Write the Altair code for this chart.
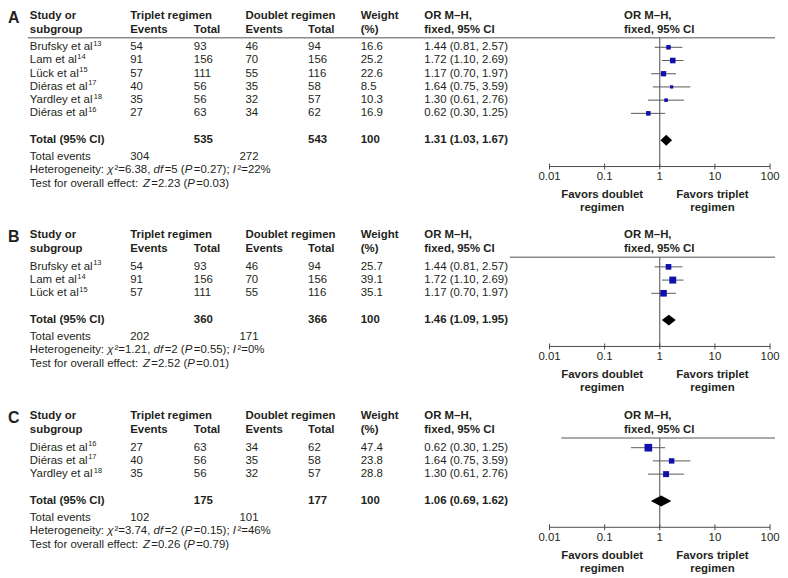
import altair as alt
import pandas as pd

# ------------------------------------------------------------------ data
# Panel A
A_study = ["Brufsky et al", "Lam et al", "Lück et al", "Diéras et al", "Yardley et al", "Diéras et al"]
A_ref = ["13", "14", "15", "17", "18", "16"]
A_trip_events = [54, 91, 57, 40, 35, 27]
A_trip_total = [93, 156, 111, 56, 56, 63]
A_doub_events = [46, 70, 55, 35, 32, 34]
A_doub_total = [94, 156, 116, 58, 57, 62]
A_weight = [16.6, 25.2, 22.6, 8.5, 10.3, 16.9]
A_or = [1.44, 1.72, 1.17, 1.64, 1.30, 0.62]
A_lo = [0.81, 1.10, 0.70, 0.75, 0.61, 0.30]
A_hi = [2.57, 2.69, 1.97, 3.59, 2.76, 1.25]
A_pooled = [1.31, 1.03, 1.67]
A_totals = [535, 543, 100]
A_events = [304, 272]
A_het = ["6.38", "5", "0.27", "22"]
A_test = ["2.23", "0.03"]

# Panel B
B_study = ["Brufsky et al", "Lam et al", "Lück et al"]
B_ref = ["13", "14", "15"]
B_trip_events = [54, 91, 57]
B_trip_total = [93, 156, 111]
B_doub_events = [46, 70, 55]
B_doub_total = [94, 156, 116]
B_weight = [25.7, 39.1, 35.1]
B_or = [1.44, 1.72, 1.17]
B_lo = [0.81, 1.10, 0.70]
B_hi = [2.57, 2.69, 1.97]
B_pooled = [1.46, 1.09, 1.95]
B_totals = [360, 366, 100]
B_events = [202, 171]
B_het = ["1.21", "2", "0.55", "0"]
B_test = ["2.52", "0.01"]

# Panel C
C_study = ["Diéras et al", "Diéras et al", "Yardley et al"]
C_ref = ["16", "17", "18"]
C_trip_events = [27, 40, 35]
C_trip_total = [63, 56, 56]
C_doub_events = [34, 35, 32]
C_doub_total = [62, 58, 57]
C_weight = [47.4, 23.8, 28.8]
C_or = [0.62, 1.64, 1.30]
C_lo = [0.30, 0.75, 0.61]
C_hi = [1.25, 3.59, 2.76]
C_pooled = [1.06, 0.69, 1.62]
C_totals = [175, 177, 100]
C_events = [102, 101]
C_het = ["3.74", "2", "0.15", "46"]
C_test = ["0.26", "0.79"]

header_top = ["Study or", "Triplet regimen", "Doublet regimen", "Weight", "OR M–H,", "OR M–H,"]
header_bot = ["subgroup", "Events", "Total", "Events", "Total", "(%)", "fixed, 95% CI", "fixed, 95% CI"]
total_label = "Total (95% CI)"
events_label = "Total events"
favors = [["Favors doublet", "regimen"], ["Favors triplet", "regimen"]]
tick_values = [0.01, 0.1, 1, 10, 100]
tick_labels = ["0.01", "0.1", "1", "10", "100"]

# ------------------------------------------------------------------ style / layout
FONT = "Liberation Sans"
TXT = "#231f20"
AXC = "#4d4d4d"
CIC = "#5a5a5a"
BLUE = "#1010aa"
HLINE = "#8c8c8c"
FS = 11.5
W = 776
X = dict(study=22, te=123, tt=187, de=239, dt=302, w=355, ortxt=419, fhdr=620, de_ev=233)
HDR_X_TOP = [X["study"], X["te"], X["de"], X["w"], X["ortxt"], X["fhdr"]]
HDR_X_BOT = [X["study"], X["te"], X["tt"], X["de"], X["dt"], X["w"], X["ortxt"], X["fhdr"]]
FOREST_RANGE = [545, 767]
FAV_X = [598, 709]

AW = {' ': 278, '(': 333, ')': 333, ',': 278, '.': 278, ':': 278, ';': 278, '=': 584, '%': 889,
      '²': 333, 'χ': 500, 'A': 667, 'B': 667, 'C': 722, 'D': 722, 'H': 722, 'I': 278, 'L': 556,
      'P': 667, 'T': 611, 'Y': 667, 'Z': 611, 'a': 556, 'c': 500, 'd': 556, 'e': 556, 'f': 278,
      'g': 556, 'h': 556, 'i': 222, 'k': 500, 'l': 222, 'm': 833, 'n': 556, 'o': 556, 'r': 333,
      's': 500, 't': 278, 'u': 556, 'v': 500, 'y': 500, 'ü': 556, 'é': 556}


def tw(s, size=FS):
    return sum(AW.get(c, 556) for c in s) * size / 1000.0


def panel(letter, study, ref, te, tt, de, dt, w, orv, lo, hi, pooled, totals, events, het, test,
          height, line_x0):
    n = len(study)
    h1, h2, hline = 6, 20, 28
    rows = [37.7 + 13.3 * i for i in range(n)]
    tot = rows[-1] + 27
    ev_y, het_y, test_y = tot + 17, tot + 30.5, tot + 44
    ax_y = tot + 26.5

    reg, bold, ital, sup, cen = [], [], [], [], []

    def add(lst, x, y, s):
        lst.append(dict(px=x, py=y, txt=str(s)))

    for x, s in zip(HDR_X_TOP, header_top):
        add(bold, x, h1, s)
    for x, s in zip(HDR_X_BOT, header_bot):
        add(bold, x, h2, s)
    for i in range(n):
        y = rows[i]
        add(reg, X["study"], y, study[i])
        add(sup, X["study"] + tw(study[i]) + 0.5, y - 3.5, ref[i])
        add(reg, X["te"], y, te[i])
        add(reg, X["tt"], y, tt[i])
        add(reg, X["de"], y, de[i])
        add(reg, X["dt"], y, dt[i])
        add(reg, X["w"], y, f"{w[i]:.1f}")
        add(reg, X["ortxt"], y, f"{orv[i]:.2f} ({lo[i]:.2f}, {hi[i]:.2f})")
    add(bold, X["study"], tot, total_label)
    add(bold, X["tt"], tot, totals[0])
    add(bold, X["dt"], tot, totals[1])
    add(bold, X["w"], tot, totals[2])
    add(bold, X["ortxt"], tot, f"{pooled[0]:.2f} ({pooled[1]:.2f}, {pooled[2]:.2f})")
    add(reg, X["study"], ev_y, events_label)
    add(reg, X["te"], ev_y, events[0])
    add(reg, X["de_ev"], ev_y, events[1])
    het_segs = [("Heterogeneity: ", 0), ("χ", 1), (f"²={het[0]}, ", 0), ("df", 1), (f"={het[1]} (", 0),
                ("P", 1), (f"={het[2]}); ", 0), ("I", 1), (f"²={het[3]}%", 0)]
    test_segs = [("Test for overall effect: ", 0), ("Z", 1), (f"={test[0]} (", 0), ("P", 1),
                 (f"={test[1]})", 0)]
    for segs, y in ((het_segs, het_y), (test_segs, test_y)):
        cx = X["study"]
        for s, it in segs:
            add(ital if it else reg, cx, y, s)
            cx += tw(s) + (1.5 if it else 0)
    for fx, lines in zip(FAV_X, favors):
        add(cen, fx, ax_y + 29, lines[0])
        add(cen, fx, ax_y + 42, lines[1])

    XS = alt.Scale(domain=[0, W], range=[0, W], nice=False, zero=False)
    YS = alt.Scale(domain=[0, height], range=[0, height], nice=False, zero=False)

    def tlayer(recs, **mk):
        props = dict(font=FONT, color=TXT, baseline="middle", align="left", fontSize=FS)
        props.update(mk)
        return alt.Chart(pd.DataFrame(recs)).mark_text(**props).encode(
            x=alt.X("px:Q", scale=XS, axis=None),
            y=alt.Y("py:Q", scale=YS, axis=None),
            text="txt:N")

    letter_l = tlayer([dict(px=0, py=0, txt=letter)], fontSize=16, fontWeight="bold", baseline="top")
    line_l = alt.Chart(pd.DataFrame(dict(x0=[line_x0], x1=[772], y=[hline]))).mark_rule(
        color=HLINE, strokeWidth=1.5).encode(
        x=alt.X("x0:Q", scale=XS, axis=None), x2="x1:Q",
        y=alt.Y("y:Q", scale=YS, axis=None))
    text_layer = alt.layer(
        letter_l, line_l,
        tlayer(reg),
        tlayer(bold, fontWeight="bold"),
        tlayer(ital, fontStyle="italic"),
        tlayer(sup, fontSize=7.5),
        tlayer(cen, fontWeight="bold", align="center"),
    )

    # forest plot: log odds-ratio scale, axis drawn through the same scale
    xs = alt.Scale(type="log", domain=[0.01, 100], range=FOREST_RANGE, nice=False)
    df = pd.DataFrame(dict(py=rows, orv=orv, lo=lo, hi=hi, w=w))
    ci = alt.Chart(df).mark_rule(color=CIC, strokeWidth=1).encode(
        x=alt.X("lo:Q", scale=xs, axis=None), x2="hi:Q",
        y=alt.Y("py:Q", scale=YS, axis=None))
    sq = alt.Chart(df).mark_square(color=BLUE, opacity=1, filled=True).encode(
        x=alt.X("orv:Q", scale=xs, axis=None),
        y=alt.Y("py:Q", scale=YS, axis=None),
        size=alt.Size("w:Q", scale=alt.Scale(domain=[0, 100], range=[0, 125]), legend=None))
    dia_df = pd.DataFrame(dict(x=[pooled[1], pooled[0], pooled[2]],
                               y=[tot, tot - 5.5, tot], y2=[tot, tot + 5.5, tot]))
    dia = alt.Chart(dia_df).mark_area(color="black", orient="vertical", opacity=1).encode(
        x=alt.X("x:Q", scale=xs, axis=None),
        y=alt.Y("y:Q", scale=YS, axis=None), y2="y2:Q")
    null_l = alt.Chart(pd.DataFrame(dict(v=[1], y=[hline], y2=[ax_y]))).mark_rule(
        color=AXC, strokeWidth=1).encode(
        x=alt.X("v:Q", scale=xs, axis=None),
        y=alt.Y("y:Q", scale=YS, axis=None), y2="y2:Q")
    ax_df = pd.DataFrame(dict(t=tick_values, lab=tick_labels))
    dom = alt.Chart(pd.DataFrame(dict(a=[tick_values[0]], b=[tick_values[-1]]))).mark_rule(
        color=AXC, strokeWidth=1).encode(
        x=alt.X("a:Q", scale=xs, axis=None), x2="b:Q", y=alt.value(ax_y))
    tk = alt.Chart(ax_df).mark_rule(color=AXC, strokeWidth=1).encode(
        x=alt.X("t:Q", scale=xs, axis=None),
        y=alt.value(ax_y - 3), y2=alt.value(ax_y + 3))
    tl = alt.Chart(ax_df).mark_text(font=FONT, fontSize=FS, color=TXT, baseline="middle",
                                    align="center").encode(
        x=alt.X("t:Q", scale=xs, axis=None), y=alt.value(ax_y + 11), text="lab:N")
    forest_layer = alt.layer(null_l, dom, tk, tl, ci, sq, dia)

    return alt.layer(text_layer, forest_layer).resolve_scale(x="independent").properties(
        width=W, height=height)


pA = panel("A", A_study, A_ref, A_trip_events, A_trip_total, A_doub_events, A_doub_total, A_weight,
           A_or, A_lo, A_hi, A_pooled, A_totals, A_events, A_het, A_test, 221, 20)
pB = panel("B", B_study, B_ref, B_trip_events, B_trip_total, B_doub_events, B_doub_total, B_weight,
           B_or, B_lo, B_hi, B_pooled, B_totals, B_events, B_het, B_test, 182, 505)
pC = panel("C", C_study, C_ref, C_trip_events, C_trip_total, C_doub_events, C_doub_total, C_weight,
           C_or, C_lo, C_hi, C_pooled, C_totals, C_events, C_het, C_test, 167, 557)

chart = alt.vconcat(pA, pB, pC, spacing=0, padding=0).configure_view(stroke=None)
chart.save("out.html", embed_options={"renderer": "svg", "actions": False})
